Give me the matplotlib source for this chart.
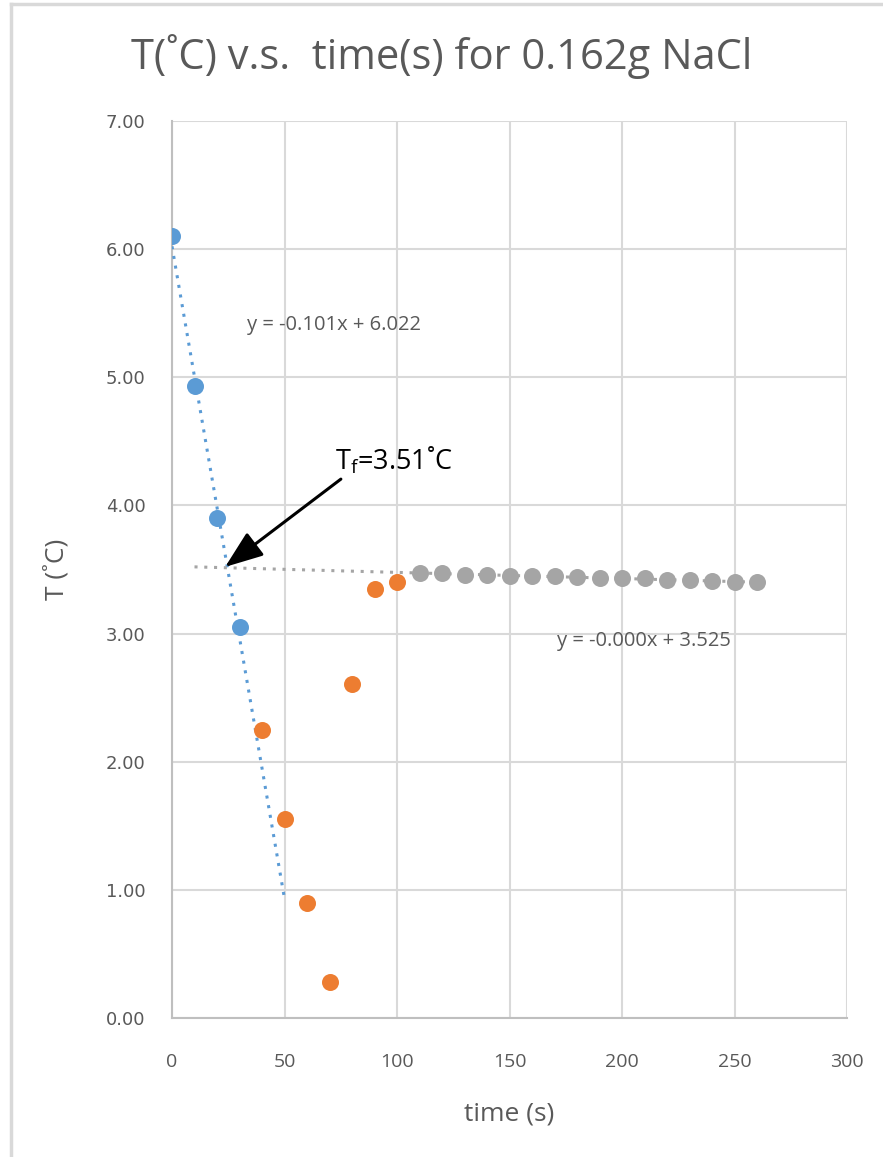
import numpy as np
import matplotlib
matplotlib.use("Agg")
import matplotlib.pyplot as plt
from matplotlib.lines import Line2D

plt.rcParams["font.family"] = ["Open Sans", "DejaVu Sans"]

# measured data
t_cool = [0, 10, 20, 30]
T_cool = [6.10, 4.93, 3.90, 3.05]
t_super = [40, 50, 60, 70, 80, 90, 100]
T_super = [2.25, 1.55, 0.90, 0.28, 2.61, 3.35, 3.40]
t_plat = [110, 120, 130, 140, 150, 160, 170, 180, 190, 200, 210, 220, 230, 240, 250, 260]
T_plat = [3.47, 3.47, 3.46, 3.46, 3.45, 3.45, 3.45, 3.44, 3.43, 3.43, 3.43, 3.42, 3.42,
          3.41, 3.40, 3.40]

eq_cool = "y = -0.101x + 6.022"
eq_plat = "y = -0.000x + 3.525"
x_ticks = [0, 50, 100, 150, 200, 250, 300]
y_ticks = [0, 1, 2, 3, 4, 5, 6, 7]

BLUE, ORANGE, GREY = "#5B9BD5", "#ED7D31", "#A5A5A5"
TXT = "#595959"

fig = plt.figure(figsize=(8.83, 11.57), dpi=100)
ax = fig.add_axes([172 / 883, 1 - 1018 / 1157, 675 / 883, 897 / 1157])

# frame lines of the pasted chart
fig.add_artist(Line2D([11 / 883, 11 / 883], [0, 1 - 4 / 1157], color="#D9D9D9", lw=2.5,
                      transform=fig.transFigure))
fig.add_artist(Line2D([11 / 883, 1], [1 - 4 / 1157, 1 - 4 / 1157], color="#D9D9D9", lw=2.5,
                      transform=fig.transFigure))

# trendlines
p1 = np.polyfit(t_cool, T_cool, 1)
xs1 = np.array([0, 50])
ax.plot(xs1, np.polyval(p1, xs1), ls=(0, (1, 2.2)), color=BLUE, lw=2.2, zorder=3)
p2 = np.polyfit(t_plat, T_plat, 1)
xs2 = np.array([10, 260])
ax.plot(xs2, np.polyval(p2, xs2), ls=(0, (1, 2.2)), color=GREY, lw=2.2, zorder=3)

ax.scatter(t_cool, T_cool, s=150, color=BLUE, zorder=4, lw=0)
ax.scatter(t_super, T_super, s=150, color=ORANGE, zorder=4, lw=0)
ax.scatter(t_plat, T_plat, s=150, color=GREY, zorder=4, lw=0)

ax.set_xlim(0, 300)
ax.set_ylim(0, 7)
ax.set_xticks(x_ticks)
ax.set_yticks(y_ticks)
ax.set_yticklabels([f"{v:.2f}" for v in y_ticks], fontsize=13, color=TXT,
                   family=["DejaVu Sans"])
ax.set_xticklabels([str(v) for v in x_ticks], fontsize=14, color=TXT)
ax.tick_params(axis="y", length=0, pad=19)
ax.tick_params(axis="x", length=0, pad=25)
ax.grid(True, color="#D9D9D9", lw=1.5)
ax.set_axisbelow(True)
for s in ["top", "right"]:
    ax.spines[s].set_visible(False)
for s in ["left", "bottom"]:
    ax.spines[s].set_color("#BFBFBF")
    ax.spines[s].set_linewidth(1.5)

ax.set_xlabel("time (s)", fontsize=19, color=TXT, labelpad=22)
ax.set_ylabel("T (˚C)", fontsize=19, color=TXT, labelpad=26)
fig.text(0.5, 1 - 57 / 1157, "T(˚C) v.s.  time(s) for 0.162g NaCl", ha="center", va="center",
         fontsize=30, color=TXT)

ax.text(33.5, 5.41, eq_cool, fontsize=14.5, color=TXT, va="center")
ax.text(171, 2.94, eq_plat, fontsize=14.5, color=TXT, va="center")

ax.annotate("T$_\\mathregular{f}$=3.51˚C", xy=(23.6, 3.52), xytext=(72.5, 4.35),
            fontsize=19.5, color="black", va="center",
            arrowprops=dict(arrowstyle="-|>,head_length=1.2,head_width=0.45", color="black",
                            lw=2.2, shrinkA=0, shrinkB=0, relpos=(0.08, 0.0)))

fig.savefig("out.png", dpi=100, facecolor="white")
